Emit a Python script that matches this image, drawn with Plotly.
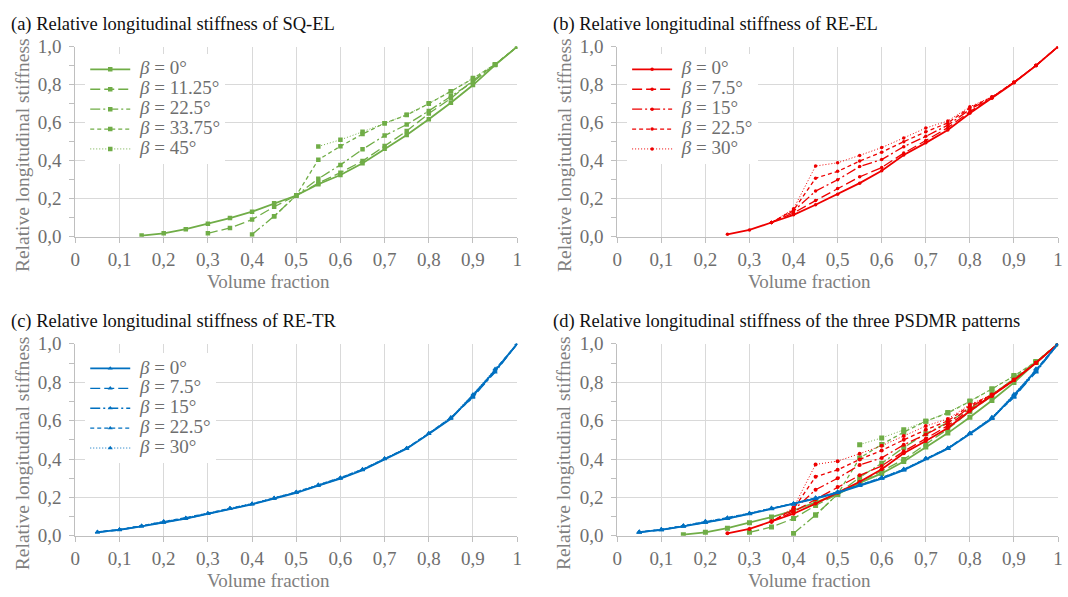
import plotly.graph_objects as go

# ---------------- data ----------------
# (a) SQ-EL
sq_beta_labels = ["0°", "11.25°", "22.5°", "33.75°", "45°"]
sq_vf_0 = [0.15, 0.20, 0.25, 0.30, 0.35, 0.40, 0.45, 0.50, 0.55, 0.60, 0.65, 0.70, 0.75, 0.80, 0.85, 0.90, 0.95, 1.00]
sq_st_0 = [0.006, 0.018, 0.040, 0.068, 0.098, 0.132, 0.176, 0.217, 0.276, 0.325, 0.387, 0.463, 0.535, 0.618, 0.705, 0.798, 0.903, 1.0]
sq_vf_1 = [0.30, 0.35, 0.40, 0.45, 0.50, 0.55, 0.60, 0.65, 0.70, 0.75, 0.80, 0.85, 0.90, 0.95, 1.00]
sq_st_1 = [0.018, 0.046, 0.090, 0.158, 0.217, 0.282, 0.337, 0.398, 0.477, 0.556, 0.648, 0.728, 0.822, 0.905, 1.0]
sq_vf_2 = [0.40, 0.45, 0.50, 0.55, 0.60, 0.65, 0.70, 0.75, 0.80, 0.85, 0.90, 0.95, 1.00]
sq_st_2 = [0.012, 0.108, 0.217, 0.305, 0.378, 0.460, 0.532, 0.590, 0.662, 0.740, 0.815, 0.905, 1.0]
sq_vf_3 = [0.45, 0.50, 0.55, 0.60, 0.65, 0.70, 0.75, 0.80, 0.85, 0.90, 0.95, 1.00]
sq_st_3 = [0.108, 0.217, 0.405, 0.476, 0.540, 0.597, 0.640, 0.700, 0.765, 0.832, 0.907, 1.0]
sq_vf_4 = [0.55, 0.60, 0.65, 0.70, 0.75, 0.80, 0.85, 0.90, 0.95, 1.00]
sq_st_4 = [0.475, 0.510, 0.552, 0.597, 0.642, 0.702, 0.765, 0.835, 0.907, 1.0]

# (b) RE-EL
re_beta_labels = ["0°", "7.5°", "15°", "22.5°", "30°"]
re_vf_0 = [0.25, 0.30, 0.35, 0.40, 0.45, 0.50, 0.55, 0.60, 0.65, 0.70, 0.75, 0.80, 0.85, 0.90, 0.95, 1.00]
re_st_0 = [0.013, 0.036, 0.075, 0.115, 0.168, 0.224, 0.282, 0.347, 0.430, 0.494, 0.562, 0.650, 0.728, 0.810, 0.900, 1.0]
re_vf_n = [0.35, 0.40, 0.45, 0.50, 0.55, 0.60, 0.65, 0.70, 0.75, 0.80, 0.85, 0.90, 0.95, 1.00]
re_st_1 = [0.075, 0.125, 0.190, 0.254, 0.315, 0.364, 0.440, 0.506, 0.574, 0.658, 0.731, 0.812, 0.901, 1.0]
re_st_2 = [0.075, 0.135, 0.240, 0.300, 0.369, 0.406, 0.474, 0.528, 0.587, 0.670, 0.733, 0.812, 0.901, 1.0]
re_st_3 = [0.075, 0.140, 0.308, 0.344, 0.398, 0.445, 0.500, 0.552, 0.599, 0.678, 0.735, 0.813, 0.902, 1.0]
re_st_4 = [0.075, 0.147, 0.372, 0.389, 0.428, 0.469, 0.520, 0.572, 0.609, 0.684, 0.736, 0.814, 0.902, 1.0]

# (c) RE-TR
tr_vf = [0.05, 0.10, 0.15, 0.20, 0.25, 0.30, 0.35, 0.40, 0.45, 0.50, 0.55, 0.60, 0.65, 0.70, 0.75, 0.80, 0.85, 0.90, 0.95, 1.00]
tr_st_0 = [0.019, 0.031, 0.049, 0.069, 0.089, 0.114, 0.140, 0.164, 0.194, 0.224, 0.261, 0.298, 0.342, 0.400, 0.454, 0.531, 0.610, 0.733, 0.860, 1.0]
tr_st_1 = [0.018, 0.030, 0.050, 0.070, 0.090, 0.115, 0.141, 0.165, 0.195, 0.226, 0.262, 0.300, 0.343, 0.401, 0.455, 0.532, 0.612, 0.728, 0.855, 1.0]
tr_st_2 = [0.019, 0.032, 0.051, 0.072, 0.091, 0.116, 0.142, 0.166, 0.196, 0.227, 0.264, 0.301, 0.345, 0.402, 0.456, 0.533, 0.614, 0.724, 0.852, 1.0]
tr_st_3 = [0.020, 0.033, 0.052, 0.074, 0.093, 0.117, 0.143, 0.167, 0.197, 0.228, 0.265, 0.303, 0.346, 0.403, 0.457, 0.534, 0.616, 0.720, 0.866, 1.0]
tr_st_4 = [0.021, 0.034, 0.053, 0.076, 0.094, 0.118, 0.145, 0.169, 0.198, 0.230, 0.267, 0.304, 0.348, 0.404, 0.458, 0.535, 0.618, 0.738, 0.870, 1.0]

x_tick_vals = [0, 0.1, 0.2, 0.3, 0.4, 0.5, 0.6, 0.7, 0.8, 0.9, 1.0]
x_tick_text = ["0", "0,1", "0,2", "0,3", "0,4", "0,5", "0,6", "0,7", "0,8", "0,9", "1"]
y_tick_vals = [0, 0.2, 0.4, 0.6, 0.8, 1.0]
y_tick_text = ["0,0", "0,2", "0,4", "0,6", "0,8", "1,0"]

panel_titles = [
    "(a) Relative longitudinal stiffness of SQ-EL",
    "(b) Relative longitudinal stiffness of RE-EL",
    "(c) Relative longitudinal stiffness of RE-TR",
    "(d) Relative longitudinal stiffness of the three PSDMR patterns",
]

# ---------------- style ----------------
W, H = 1068, 597
FONT = "Liberation Serif"
GREEN, RED, BLUE = "#70AD47", "#EE0000", "#0070C0"
dashes = ["solid", "10px,4px", "10px,3px,2px,3px", "4px,3px", "1px,2px"]
widths = [1.8, 1.3, 1.3, 1.3, 1.0]

def px(x):
    return x / W

def py(y):
    return 1 - y / H

# panel pixel boxes: (x0, x1, ytop, ybottom)
boxes = {
    1: (71, 517, 38, 235),
    2: (618, 1063, 38, 235),
    3: (71, 517, 346, 545),
    4: (618, 1063, 346, 545),
}

fig = go.Figure()

sq_sets = [(sq_vf_0, sq_st_0), (sq_vf_1, sq_st_1), (sq_vf_2, sq_st_2), (sq_vf_3, sq_st_3), (sq_vf_4, sq_st_4)]
re_sets = [(re_vf_0, re_st_0), (re_vf_n, re_st_1), (re_vf_n, re_st_2), (re_vf_n, re_st_3), (re_vf_n, re_st_4)]
tr_sets = [(tr_vf, tr_st_0), (tr_vf, tr_st_1), (tr_vf, tr_st_2), (tr_vf, tr_st_3), (tr_vf, tr_st_4)]

groups = [
    (sq_sets, sq_beta_labels, GREEN, "square", 4.5, 1, "legend"),
    (re_sets, re_beta_labels, RED, "circle", 3.5, 2, "legend2"),
    (tr_sets, re_beta_labels, BLUE, "triangle-up", 4.5, 3, "legend3"),
]

for sets, labels, color, sym, msize, ax, leg in groups:
    for i, (xs, ys) in enumerate(sets):
        fig.add_trace(go.Scatter(
            x=xs, y=ys, mode="lines+markers",
            name='<span style="font-size:19px"> <i>β</i> = ' + labels[i] + "</span>",
            line=dict(color=color, width=widths[i], dash=dashes[i]),
            marker=dict(symbol=sym, size=msize, color=color),
            xaxis="x" if ax == 1 else f"x{ax}", yaxis="y" if ax == 1 else f"y{ax}",
            legend=leg, showlegend=True,
        ))
# panel (d): all together
for sets, labels, color, sym, msize, ax, leg in groups:
    for i, (xs, ys) in enumerate(sets):
        fig.add_trace(go.Scatter(
            x=xs, y=ys, mode="lines+markers",
            line=dict(color=color, width=widths[i], dash=dashes[i]),
            marker=dict(symbol=sym, size=msize + 0.5, color=color),
            xaxis="x4", yaxis="y4", showlegend=False,
        ))

axis_common = dict(
    range=[0, 1], showgrid=True, gridcolor="#d9d9d9", gridwidth=1,
    showline=True, linecolor="#bfbfbf", linewidth=1, zeroline=False,
    ticks="outside", ticklen=5, tickcolor="#bfbfbf",
    tickfont=dict(family=FONT, size=19, color="#6e6e6e"),
)

layout = dict(
    width=W, height=H, margin=dict(l=0, r=0, t=0, b=0),
    paper_bgcolor="white", plot_bgcolor="white",
    font=dict(family=FONT),
    annotations=[],
)
for k, (x0, x1, yt, yb) in boxes.items():
    sx = "" if k == 1 else str(k)
    layout["xaxis" + sx] = dict(
        axis_common, domain=[px(x0), px(x1)], anchor="y" + sx,
        tickmode="array", tickvals=x_tick_vals, ticktext=x_tick_text,
        ticklabelstandoff=0,
    )
    layout["yaxis" + sx] = dict(
        axis_common, domain=[py(yb), py(yt)], anchor="x" + sx,
        tickmode="array", tickvals=y_tick_vals, ticktext=y_tick_text,
        minor=dict(tickmode="linear", tick0=0, dtick=0.1, ticks="outside", ticklen=5,
                   tickcolor="#bfbfbf", showgrid=False),
        ticklabelstandoff=4,
    )
    # panel title
    layout["annotations"].append(dict(
        text=panel_titles[k - 1], xref="paper", yref="paper",
        x=px(x0 - 67), y=py(yt - 23), xanchor="left", yanchor="middle",
        showarrow=False, font=dict(family=FONT, size=18.5, color="#111111"),
    ))
    # y-axis title
    layout["annotations"].append(dict(
        text="Relative longitudinal stiffness", xref="paper", yref="paper",
        x=px(x0 - 54), y=py((yt + yb) / 2 + 14), xanchor="center", yanchor="middle",
        textangle=-90, showarrow=False, font=dict(family=FONT, size=19.5, color="#808080"),
    ))
    # x-axis title
    layout["annotations"].append(dict(
        text="Volume fraction", xref="paper", yref="paper",
        x=px((x0 + x1) / 2 - 28), y=py(yb + 46), xanchor="center", yanchor="middle",
        showarrow=False, font=dict(family=FONT, size=19, color="#808080"),
    ))

leg_common = dict(
    xanchor="left", yanchor="top", bgcolor="white", borderwidth=0,
    font=dict(family=FONT, size=13, color="#6e6e6e"), itemwidth=40,
    tracegroupgap=0,
)
layout["legend"] = dict(leg_common, x=px(81), y=py(46))
layout["legend2"] = dict(leg_common, x=px(628), y=py(46))
layout["legend3"] = dict(leg_common, x=px(81), y=py(356))

fig.update_layout(**layout)
fig.write_html("out.html")
